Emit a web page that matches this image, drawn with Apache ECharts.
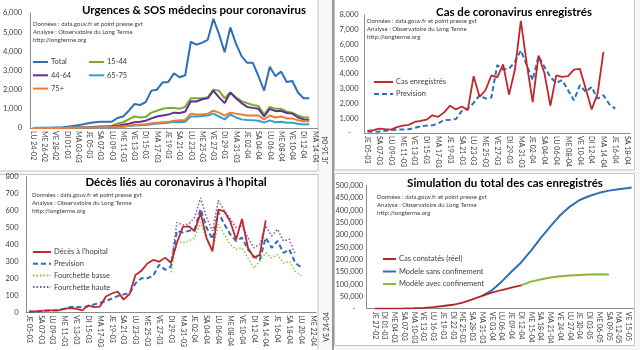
<!DOCTYPE html>
<html>
<head>
<meta charset="utf-8">
<script src="https://cdn.jsdelivr.net/npm/echarts@6/dist/echarts.min.js"></script>
<style>
  html, body { margin: 0; padding: 0; background: #ffffff; }
  #chart { width: 640px; height: 350px; }
</style>
</head>
<body>
<div id="chart"></div>
<script>
// ---- data ----
// panel 1 : urgences & SOS medecins, daily from 24-02
const urgTotal = [5, 8, 10, 15, 20, 25, 60, 100, 150, 200, 260, 300, 330, 320, 330, 520, 600, 900, 1250, 1200,
  1350, 1950, 2000, 2380, 2400, 2850, 2650, 2750, 4500, 4350, 4450, 4600, 5700, 4900, 3950, 5250, 4400, 3750, 3400, 3400,
  2700, 1950, 3200, 2700, 2950, 2400, 2450, 1850, 1550, 1550];
const urg1544 = [0, 0, 2, 3, 5, 5, 10, 20, 30, 40, 50, 70, 80, 90, 120, 230, 300, 450, 600, 550,
  580, 800, 900, 1000, 1050, 1050, 1000, 1100, 1550, 1550, 1550, 1600, 2000, 1950, 1550, 1850, 1600, 1400, 1300, 1200,
  1150, 700, 1100, 1000, 1000, 850, 800, 650, 550, 550];
const urg4464 = [0, 0, 0, 0, 0, 0, 5, 10, 20, 30, 40, 50, 60, 70, 80, 120, 170, 220, 300, 330,
  380, 500, 600, 650, 700, 800, 780, 850, 1400, 1380, 1500, 1550, 1950, 1600, 1300, 1850, 1550, 1300, 1100, 1050,
  1000, 600, 1000, 880, 900, 780, 750, 550, 450, 420];
const urg6575 = [0, 0, 0, 0, 0, 0, 3, 5, 10, 15, 20, 25, 30, 35, 40, 60, 70, 100, 130, 140,
  150, 200, 230, 250, 270, 320, 310, 330, 600, 600, 620, 650, 750, 600, 450, 700, 550, 450, 420, 400,
  380, 280, 400, 300, 330, 270, 280, 220, 180, 200];
const urg75 = [0, 0, 0, 0, 0, 0, 5, 10, 15, 20, 25, 30, 40, 40, 50, 70, 80, 120, 160, 180,
  200, 250, 280, 300, 320, 380, 400, 420, 750, 700, 700, 750, 900, 800, 650, 800, 750, 700, 650, 650,
  650, 450, 650, 550, 600, 500, 500, 400, 350, 350];

// panel 2 : cas enregistres, daily from 05-03
const casReels = [150, 200, 300, 260, 230, 400, 500, 550, 750, 820, 900, 1200, 1100, 1400, 1850, 1600, 1800, 1550, 3850, 2450,
  2900, 3900, 3770, 4650, 2600, 4300, 7600, 4700, 2100, 5250, 4050, 1850, 3900, 3800, 3850, 4300, 4350, 3000, 1600, 2650, 5500];
const casPrev = [100, 80, 100, 150, 200, 230, 240, 250, 350, 450, 500, 520, 650, 880, 900, 950, 1500, 1650, 2040, 2560,
  2330, 2400, 4600, 4300, 4370, 4820, 5600, 4600, 3580, 5210, 4490, 3800, 3400, 3580, 2900, 2220, 3240, 2790, 3130, 2330,
  2560, 1950, 1650];

// panel 3 : deces a l'hopital, daily from 05-03 (fourchettes start 29-03, index 24)
const deces = [4, 4, 8, 10, 10, 10, 20, 24, 20, 10, 40, 30, 33, 92, 110, 121, 74, 107, 219, 244,
  287, 308, 298, 322, 292, 410, 503, 507, 478, 585, 439, 361, 605, 595, 537, 429, 550, 380, 322, 338, 542];
const decesPrev = [2, 3, 5, 8, 10, 12, 20, 30, 30, 28, 35, 45, 55, 65, 80, 95, 105, 110, 170, 200,
  200, 215, 280, 250, 270, 480, 470, 480, 490, 610, 500, 430, 590, 520, 460, 420, 440, 370, 330, 310,
  440, 380, 420, 350, 370, 290, 265];
const fourchetteStart = 24;
const fourchetteBasse = [235, 420, 410, 420, 440, 530, 430, 360, 520, 460, 400, 370, 380, 320, 260, 300, 350, 320, 340, 290, 300, 240, 215];
const fourchetteHaute = [280, 530, 515, 520, 560, 675, 560, 480, 660, 600, 550, 500, 510, 440, 380, 400, 510, 450, 490, 420, 430, 340];

// panel 4 : simulation du total, axis from 25-02, one reading every 3 days
const simDaysReel = [2, 5, 8, 11, 14, 17, 20, 23, 26, 29, 32, 35, 38, 41, 44, 47];
const simReel = [40, 130, 290, 950, 1800, 3700, 6600, 11000, 16000, 25000, 38000, 52000, 65000, 76000, 86000, 95000];
const simDaysSans = [35, 38, 41, 44, 47, 50, 53, 56, 59, 62, 65, 68, 71, 74, 77, 80, 81];
const simSans = [52000, 75000, 110000, 150000, 188000, 235000, 287000, 335000, 380000, 415000, 442000, 458000, 471000, 480000, 486000, 491000, 493000];
const simDaysAvec = [47, 50, 53, 56, 59, 62, 65, 68, 71, 74];
const simAvec = [95000, 110000, 119000, 127000, 132000, 135000, 137000, 139000, 140000, 139000];

const titles = ['Urgences & SOS médecins pour coronavirus', 'Cas de coronavirus enregistrés',
  'Décès liés au coronavirus à l\'hopital', 'Simulation du total des cas enregistrés'];
const notes = ['Données : data.gouv.fr et point presse gvt', 'Analyse : Observatoire du Long Terme', 'http://longterme.org'];

// ---- helpers ----
const DAYS_FR = ['DI', 'LU', 'MA', 'ME', 'JE', 'VE', 'SA'];
function pad(n) { return (n < 10 ? '0' : '') + n; }
function dayLabels(month, day, count) {
  let out = [];
  for (let i = 0; i < count; i++) {
    let d = new Date(2020, month - 1, day + i);
    out.push(DAYS_FR[d.getDay()] + ' ' + pad(d.getDate()) + '-' + pad(d.getMonth() + 1));
  }
  return out;
}
function offsetSeries(start, values) {
  let out = [];
  for (let i = 0; i < start; i++) out.push(null);
  return out.concat(values);
}
function sparseSeries(len, idx, values) {
  let out = new Array(len).fill(null);
  idx.forEach(function (k, i) { out[k] = values[i]; });
  return out;
}

const cats1 = dayLabels(2, 24, 51);
const cats2 = dayLabels(3, 5, 45);
const cats3 = dayLabels(3, 5, 49);
const cats4 = dayLabels(2, 25, 82);

const FONT = 'Lato, "Liberation Sans", sans-serif';
const LBL = '#404040';
const AXIS = '#8c8c8c';

const BLUE = '#2e6fb7';
const RED = '#c0282d';

function xAxis(grid, data, interval) {
  return {
    type: 'category', gridIndex: grid, data: data, boundaryGap: true,
    axisLine: { lineStyle: { color: AXIS, width: 1 } },
    axisTick: { show: false },
    axisLabel: { rotate: -90, fontSize: 7, color: LBL, margin: 3, interval: interval, fontFamily: FONT }
  };
}
function yAxis(grid, max, interval, margin, fmt) {
  return {
    type: 'value', gridIndex: grid, min: 0, max: max, interval: interval,
    axisLine: { show: true, lineStyle: { color: AXIS, width: 1 } },
    axisTick: { show: false },
    splitLine: { show: false },
    axisLabel: { fontSize: 7.5, color: LBL, margin: margin, fontFamily: FONT, formatter: fmt }
  };
}
function acct(v) { return v === 0 ? '-    ' : v.toLocaleString('en-US'); }

function line(name, grid, data, color, width, type, z) {
  return {
    name: name, type: 'line', xAxisIndex: grid, yAxisIndex: grid, data: data,
    symbol: 'none', connectNulls: true, silent: true, animation: false,
    lineStyle: { color: color, width: width, type: type || 'solid' },
    itemStyle: { color: color }, z: z || 2
  };
}
function legend(names, left, top, gap, w) {
  return {
    data: names, left: left, top: top, orient: 'vertical', itemGap: gap,
    itemWidth: w, itemHeight: 8, selectedMode: false, padding: 0,
    itemStyle: { opacity: 0 },
    textStyle: { fontSize: 7.5, color: '#404040', fontFamily: FONT, padding: [0, 0, 0, -2] }
  };
}
function text(x, y, str, size, bold, align, rot) {
  return {
    type: 'text', x: x, y: y, rotation: rot || 0, z: 50,
    style: { text: str, fill: bold ? '#000' : '#404040', font: (bold ? 'bold ' : '') + size + 'px ' + FONT,
      textAlign: align || 'left', textVerticalAlign: 'middle' }
  };
}
function noteBlock(x, y) {
  return notes.map(function (n, i) { return text(x, y + i * 8, n, 6, false); });
}

let chart = echarts.init(document.getElementById('chart'));

let graphics = [
  // spreadsheet background and chart frames
  { type: 'rect', shape: { x: 0, y: 0, width: 640, height: 350 }, style: { fill: '#f7f7f7' }, z: -10 },
  { type: 'rect', shape: { x: -2, y: -2, width: 320, height: 173 }, style: { fill: '#fff', stroke: '#c4c4c4', lineWidth: 1 }, z: -5 },
  { type: 'rect', shape: { x: 334.5, y: -2, width: 300, height: 172 }, style: { fill: '#fff', stroke: '#c4c4c4', lineWidth: 1 }, z: -5 },
  { type: 'rect', shape: { x: -2, y: 174.5, width: 320, height: 180 }, style: { fill: '#fff', stroke: '#c4c4c4', lineWidth: 1 }, z: -5 },
  { type: 'rect', shape: { x: 334.5, y: 173.5, width: 300, height: 172 }, style: { fill: '#fff', stroke: '#c4c4c4', lineWidth: 1 }, z: -5 },
  { type: 'line', shape: { x1: 333, y1: 0, x2: 333, y2: 350 }, style: { stroke: '#9a9a9a', lineWidth: 2 }, z: -4 },
  text(194, 10, titles[0], 11.5, true, 'center'),
  text(514, 12, titles[1], 11.5, true, 'center'),
  text(176, 182, titles[2], 11.5, true, 'center'),
  text(505, 183, titles[3], 11.5, true, 'center'),
  text(326, 150, 'JE 16-04', 7, false, 'center', Math.PI / 2),
  text(327, 327, 'VE 24-04', 7, false, 'center', Math.PI / 2)
].concat(noteBlock(33, 24), noteBlock(367, 21), noteBlock(32, 195), noteBlock(377, 197));

let option = {
  animation: false,
  textStyle: { fontFamily: FONT },
  graphic: graphics,
  grid: [
    { left: 27, top: 13, width: 290.7, height: 115 },
    { left: 364.5, top: 15, width: 265.5, height: 118 },
    { left: 26, top: 176.7, width: 290, height: 136.6 },
    { left: 366.7, top: 185.7, width: 266.6, height: 123 }
  ],
  xAxis: [
    xAxis(0, cats1, 1),
    xAxis(1, cats2, 1),
    xAxis(2, cats3, 1),
    xAxis(3, cats4, function (i) { return (i - 2) % 3 === 0 && i >= 2; })
  ],
  yAxis: [
    yAxis(0, 6000, 1000, 8),
    yAxis(1, 8000, 1000, 6, acct),
    yAxis(2, 800, 100, 7.5),
    yAxis(3, 500000, 50000, 3.5, acct)
  ],
  legend: [
    legend(['Total', '44-64', '75+'], 32, 58, 5.3, 15),
    legend(['15-44', '65-75'], 88, 58, 5.3, 15),
    legend(['Cas enregistrés', 'Prevision'], 373, 78, 4, 19),
    legend(['Décès à l\'hopital', 'Prevision ', 'Fourchette basse', 'Fourchette haute'], 32, 248, 3.7, 18),
    legend(['Cas constatés (réel)', 'Modele sans confinement', 'Modèle avec confinement'], 382, 255, 4.5, 13)
  ],
  series: [
    line('Total', 0, urgTotal, BLUE, 2),
    line('15-44', 0, urg1544, '#7aab2e', 2),
    line('44-64', 0, urg4464, '#60338f', 2),
    line('65-75', 0, urg6575, '#2fa3c8', 2),
    line('75+', 0, urg75, '#ed7d31', 2),

    line('Cas enregistrés', 1, casReels, RED, 1.8, 'solid', 3),
    line('Prevision', 1, casPrev, BLUE, 2, [5, 3]),

    line('Décès à l\'hopital', 2, deces, RED, 1.8, 'solid', 3),
    line('Prevision ', 2, decesPrev, BLUE, 2, [5, 3]),
    line('Fourchette basse', 2, offsetSeries(fourchetteStart, fourchetteBasse), '#8fbf3f', 1.5, [1.5, 2]),
    line('Fourchette haute', 2, offsetSeries(fourchetteStart, fourchetteHaute), '#7a4fb0', 1.5, [1.5, 2]),

    line('Cas constatés (réel)', 3, sparseSeries(82, simDaysReel, simReel), '#b0282d', 1.8, 'solid', 3),
    line('Modele sans confinement', 3, sparseSeries(82, simDaysSans, simSans), BLUE, 2),
    line('Modèle avec confinement', 3, sparseSeries(82, simDaysAvec, simAvec), '#8db63c', 2)
  ]
};

chart.setOption(option);
</script>
</body>
</html>
